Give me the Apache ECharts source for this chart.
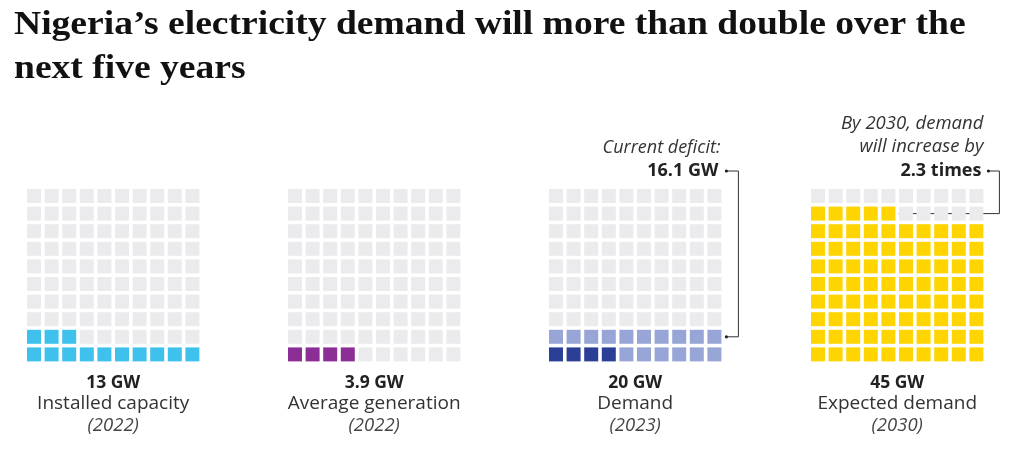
<!DOCTYPE html>
<html>
<head>
<meta charset="utf-8">
<script src="https://cdn.jsdelivr.net/npm/echarts@6/dist/echarts.min.js"></script>
<style>
html,body{margin:0;padding:0;background:#fff;}
#c{width:1024px;height:454px;}
</style>
</head>
<body>
<div id="c"></div>
<script>
// ---- data ----
const categories = ['Installed capacity', 'Average generation', 'Demand', 'Expected demand'];
const years = ['(2022)', '(2022)', '(2023)', '(2030)'];
const valueLabels = ['13 GW', '3.9 GW', '20 GW', '45 GW'];
const primaryCells = [13, 4, 4, 85];   // filled squares (strong colour)
const secondaryCells = [0, 0, 16, 0];  // filled squares (light colour, demand deficit)
const gridCols = 10;
const gridRows = 10;
const deficitLabel = ['Current deficit:', '16.1 GW'];
const growthLabel = ['By 2030, demand', 'will increase by', '2.3 times'];
const titleLines = ['Nigeria\u2019s electricity demand will more than double over the', 'next five years'];

// ---- styles ----
const primaryColors = ['#3ec1ec', '#8b2f97', '#2c3f97', '#fed500'];
const secondaryColor = '#97a6d6';
const emptyColor = '#ebebed';
const gridLefts = [25.2, 286.2, 547.2, 809.2];
const gridTop = 187.2, gridSize = 176, cellSize = 14;
const sans = '"Open Sans", "Noto Sans", sans-serif';

const chart = echarts.init(document.getElementById('c'), null, {renderer: 'canvas'});

const grids = [], xAxes = [], yAxes = [], series = [];
categories.forEach((cat, g) => {
  grids.push({left: gridLefts[g], top: gridTop, width: gridSize, height: gridSize});
  xAxes.push({type: 'value', gridIndex: g, min: -0.5, max: gridCols - 0.5, show: false});
  yAxes.push({type: 'value', gridIndex: g, min: -0.5, max: gridRows - 0.5, show: false});
  const data = [];
  for (let i = 0; i < gridCols * gridRows; i++) {
    const col = i % gridCols, row = Math.floor(i / gridCols);
    let color = emptyColor;
    if (i < primaryCells[g]) color = primaryColors[g];
    else if (i < primaryCells[g] + secondaryCells[g]) color = secondaryColor;
    data.push({value: [col, row], itemStyle: {color: color, opacity: 1}});
  }
  series.push({
    type: 'scatter', xAxisIndex: g, yAxisIndex: g, symbol: 'rect', symbolSize: cellSize,
    itemStyle: {opacity: 1}, data: data, silent: true, animation: false
  });
});

chart.setOption({
  animation: false,
  grid: grids, xAxis: xAxes, yAxis: yAxes, series: series
});

// ---- text and connectors ----
const gfx = [];
const titleStyle = {fontFamily: '"Liberation Serif", serif', fontWeight: 'bold', fontSize: 34, fill: '#111'};
gfx.push({type: 'text', x: 14, y: 8, scaleX: 1.105, style: Object.assign({text: titleLines[0]}, titleStyle)});
gfx.push({type: 'text', x: 14, y: 52, scaleX: 1.105, style: Object.assign({text: titleLines[1]}, titleStyle)});

categories.forEach((cat, g) => {
  const cx = gridLefts[g] + gridSize / 2;
  gfx.push({type: 'text', x: cx, y: 383, style: {text: valueLabels[g], fontFamily: sans, fontWeight: 'bold', fontSize: 17.5, fill: '#222', textAlign: 'center', textVerticalAlign: 'middle'}});
  gfx.push({type: 'text', x: cx, y: 404, style: {text: cat, fontFamily: sans, fontSize: 19, fill: '#333', textAlign: 'center', textVerticalAlign: 'middle'}});
  gfx.push({type: 'text', x: cx, y: 426, style: {text: years[g], fontFamily: sans, fontStyle: 'italic', fontSize: 18.5, fill: '#444', textAlign: 'center', textVerticalAlign: 'middle'}});
});

// deficit annotation (grid 2)
const pTopRow = chart.convertToPixel({gridIndex: 2}, [gridCols - 1, 1]);
const rEdge2 = pTopRow[0] + cellSize / 2;
const labelY1 = 171;
gfx.push({type: 'text', x: rEdge2 - 1, y: 148, style: {text: deficitLabel[0], fontFamily: sans, fontStyle: 'italic', fontSize: 18, fill: '#333', textAlign: 'right', textVerticalAlign: 'middle'}});
gfx.push({type: 'text', x: rEdge2 - 3, y: labelY1, style: {text: deficitLabel[1], fontFamily: sans, fontWeight: 'bold', fontSize: 18, fill: '#222', textAlign: 'right', textVerticalAlign: 'middle'}});
const bx2 = rEdge2 + 17;
gfx.push({type: 'polyline', shape: {points: [[rEdge2 + 5, labelY1], [bx2, labelY1], [bx2, pTopRow[1]], [rEdge2 + 5, pTopRow[1]]]}, style: {stroke: '#333', lineWidth: 1, fill: null}});
gfx.push({type: 'circle', shape: {cx: rEdge2 + 5, cy: labelY1, r: 1.6}, style: {fill: '#222'}});
gfx.push({type: 'circle', shape: {cx: rEdge2 + 5, cy: pTopRow[1], r: 1.6}, style: {fill: '#222'}});

// growth annotation (grid 3)
const lastFull = primaryCells[3] - 1;
const pLast = chart.convertToPixel({gridIndex: 3}, [lastFull % gridCols, Math.floor(lastFull / gridCols)]);
const pRight3 = chart.convertToPixel({gridIndex: 3}, [gridCols - 1, 0]);
const rEdge3 = pRight3[0] + cellSize / 2;
gfx.push({type: 'text', x: rEdge3, y: 124, style: {text: growthLabel[0], fontFamily: sans, fontStyle: 'italic', fontSize: 18.5, fill: '#333', textAlign: 'right', textVerticalAlign: 'middle'}});
gfx.push({type: 'text', x: rEdge3, y: 147, style: {text: growthLabel[1], fontFamily: sans, fontStyle: 'italic', fontSize: 18.5, fill: '#333', textAlign: 'right', textVerticalAlign: 'middle'}});
gfx.push({type: 'text', x: rEdge3 - 2, y: labelY1, style: {text: growthLabel[2], fontFamily: sans, fontWeight: 'bold', fontSize: 18, fill: '#222', textAlign: 'right', textVerticalAlign: 'middle'}});
const bx3 = rEdge3 + 16;
const dotX3 = pLast[0] + cellSize / 2 + 5;
gfx.push({type: 'polyline', shape: {points: [[rEdge3 + 5, labelY1], [bx3, labelY1], [bx3, pLast[1]], [dotX3, pLast[1]]]}, style: {stroke: '#333', lineWidth: 1, fill: null}});
gfx.push({type: 'circle', shape: {cx: rEdge3 + 5, cy: labelY1, r: 1.6}, style: {fill: '#222'}});
gfx.push({type: 'circle', shape: {cx: dotX3, cy: pLast[1], r: 1.6}, style: {fill: '#222'}});

chart.setOption({graphic: gfx});
</script>
</body>
</html>
